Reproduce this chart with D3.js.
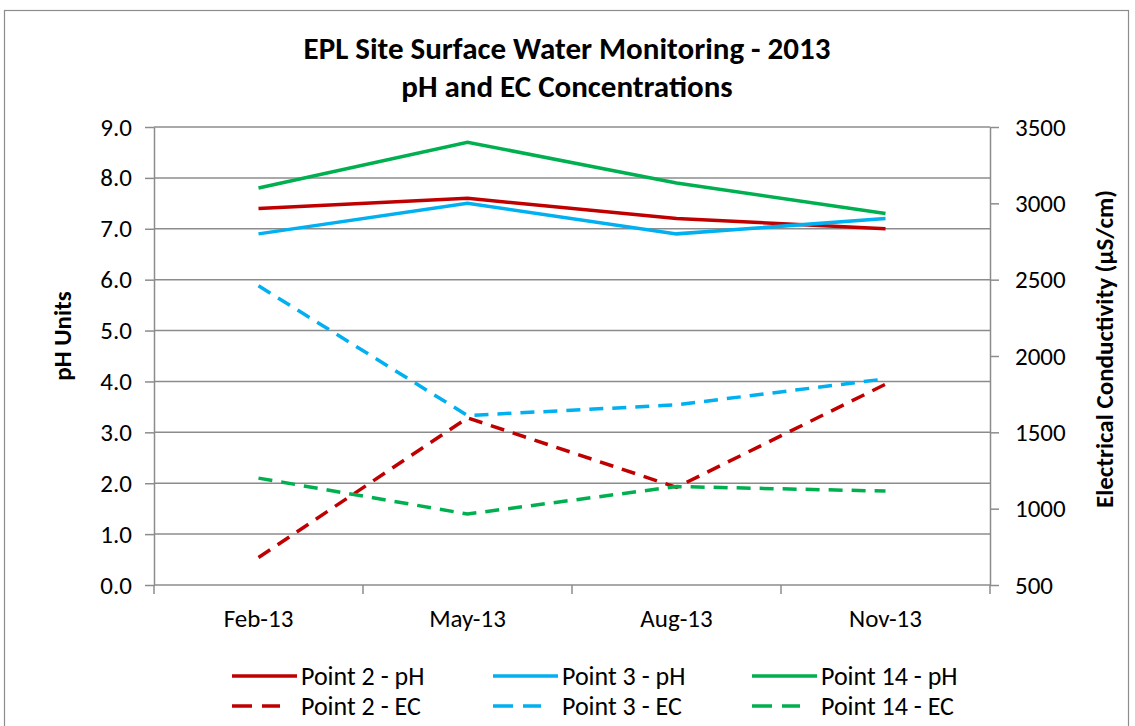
<!DOCTYPE html>
<html>
<head>
<meta charset="utf-8">
<script src="https://cdn.jsdelivr.net/npm/d3@7"></script>
<style>
  body { margin: 0; background: #fff; }
  svg text { font-family: Carlito, "Liberation Sans Narrow", "Liberation Sans", sans-serif; fill: #000; }
</style>
</head>
<body>
<div id="chart"></div>
<script>
// data
var months = ["Feb-13", "May-13", "Aug-13", "Nov-13"];
var ph_point2 = [7.4, 7.6, 7.2, 7.0];
var ph_point3 = [6.9, 7.5, 6.9, 7.2];
var ph_point14 = [7.8, 8.7, 7.9, 7.3];
var ec_point2 = [680, 1595, 1140, 1815];
var ec_point3 = [2460, 1610, 1680, 1850];
var ec_point14 = [1200, 965, 1145, 1115];
var ph_ticks = [0, 1, 2, 3, 4, 5, 6, 7, 8, 9];
var ec_ticks = [500, 1000, 1500, 2000, 2500, 3000, 3500];

var series = [
  { name: "Point 2 - pH", values: ph_point2, axis: "ph", color: "#c00000", dash: null },
  { name: "Point 3 - pH", values: ph_point3, axis: "ph", color: "#00b0f0", dash: null },
  { name: "Point 14 - pH", values: ph_point14, axis: "ph", color: "#00b050", dash: null },
  { name: "Point 2 - EC", values: ec_point2, axis: "ec", color: "#c00000", dash: "14,9" },
  { name: "Point 3 - EC", values: ec_point3, axis: "ec", color: "#00b0f0", dash: "14,9" },
  { name: "Point 14 - EC", values: ec_point14, axis: "ec", color: "#00b050", dash: "14,9" }
];

var width = 1135, height = 726;
var plotLeft = 154, plotRight = 990, plotTop = 127, plotBottom = 585;
var tickFont = "25px";

var svg = d3.select("#chart").append("svg")
  .attr("width", width)
  .attr("height", height);

svg.append("rect")
  .attr("x", 4.5).attr("y", 10.5)
  .attr("width", 1124).attr("height", 730)
  .attr("fill", "#fff")
  .attr("stroke", "#8c8c8c")
  .attr("stroke-width", 1.2);

var x = d3.scaleBand().domain(months).range([plotLeft, plotRight]);
var yPh = d3.scaleLinear().domain([0, 9]).range([plotBottom, plotTop]);
var yEc = d3.scaleLinear().domain([500, 3500]).range([plotBottom, plotTop]);

/* gridlines */
svg.append("g")
  .selectAll("line")
  .data(ph_ticks.slice(1))
  .enter().append("line")
  .attr("x1", plotLeft).attr("x2", plotRight)
  .attr("y1", function (d) { return yPh(d); })
  .attr("y2", function (d) { return yPh(d); })
  .attr("stroke", "#8c8c8c")
  .attr("stroke-width", 1.5);

/* axes */
function styleAxis(g) {
  g.select(".domain").attr("stroke", "#8c8c8c").attr("stroke-width", 1.5);
  g.selectAll(".tick line").attr("stroke", "#8c8c8c").attr("stroke-width", 1.5);
  g.selectAll(".tick text").style("font-size", tickFont).attr("fill", "#000");
}

svg.append("g")
  .attr("transform", "translate(" + plotLeft + ",0)")
  .call(d3.axisLeft(yPh).tickValues(ph_ticks).tickFormat(d3.format(".1f")).tickSize(9).tickPadding(13).tickSizeOuter(0))
  .call(styleAxis);

svg.append("g")
  .attr("transform", "translate(" + plotRight + ",0)")
  .call(d3.axisRight(yEc).tickValues(ec_ticks).tickFormat(d3.format("d")).tickSize(9).tickPadding(16).tickSizeOuter(0))
  .call(styleAxis);

var xAxis = svg.append("g")
  .attr("transform", "translate(0," + plotBottom + ")")
  .call(d3.axisBottom(x).tickSize(0).tickPadding(24))
  .call(styleAxis);
xAxis.select(".domain").attr("d", "M" + plotLeft + ",0H" + plotRight);

// category boundary ticks
svg.append("g")
  .selectAll("line")
  .data(d3.range(months.length + 1))
  .enter().append("line")
  .attr("x1", function (i) { return plotLeft + i * x.step(); })
  .attr("x2", function (i) { return plotLeft + i * x.step(); })
  .attr("y1", plotBottom).attr("y2", plotBottom + 9)
  .attr("stroke", "#8c8c8c")
  .attr("stroke-width", 1.5);

/* series lines */
var lineFor = function (s) {
  var yScale = s.axis === "ph" ? yPh : yEc;
  return d3.line()
    .x(function (d, i) { return x(months[i]) + x.bandwidth() / 2; })
    .y(function (d) { return yScale(d); })(s.values);
};

svg.append("g")
  .selectAll("path")
  .data(series)
  .enter().append("path")
  .attr("d", lineFor)
  .attr("fill", "none")
  .attr("stroke", function (d) { return d.color; })
  .attr("stroke-width", 3.5)
  .attr("stroke-dasharray", function (d) { return d.dash; });

/* titles */
var title = svg.append("text")
  .attr("text-anchor", "middle")
  .style("font-size", "31px").style("font-weight", "bold");
title.append("tspan").attr("x", 567).attr("y", 59).text("EPL Site Surface Water Monitoring - 2013");
title.append("tspan").attr("x", 567).attr("y", 97).text("pH and EC Concentrations");

svg.append("text")
  .attr("transform", "translate(71,336) rotate(-90)")
  .attr("text-anchor", "middle")
  .style("font-size", "25px").style("font-weight", "bold")
  .text("pH Units");

svg.append("text")
  .attr("transform", "translate(1113,349) rotate(-90)")
  .attr("text-anchor", "middle")
  .style("font-size", "25px").style("font-weight", "bold")
  .text("Electrical Conductivity (µS/cm)");

/* legend */
var legendX = [232, 493, 752];
var legendY = [676, 706];
var legend = svg.append("g")
  .selectAll("g")
  .data(series)
  .enter().append("g")
  .attr("transform", function (d, i) {
    return "translate(" + legendX[i % 3] + "," + legendY[Math.floor(i / 3)] + ")";
  });

legend.append("line")
  .attr("x1", 0).attr("x2", 65)
  .attr("y1", 0).attr("y2", 0)
  .attr("stroke", function (d) { return d.color; })
  .attr("stroke-width", 3.5)
  .attr("stroke-dasharray", function (d) { return d.dash ? "20,10,18,100" : null; });

legend.append("text")
  .attr("x", 69).attr("y", 9)
  .style("font-size", "26px")
  .text(function (d) { return d.name; });
</script>
</body>
</html>
